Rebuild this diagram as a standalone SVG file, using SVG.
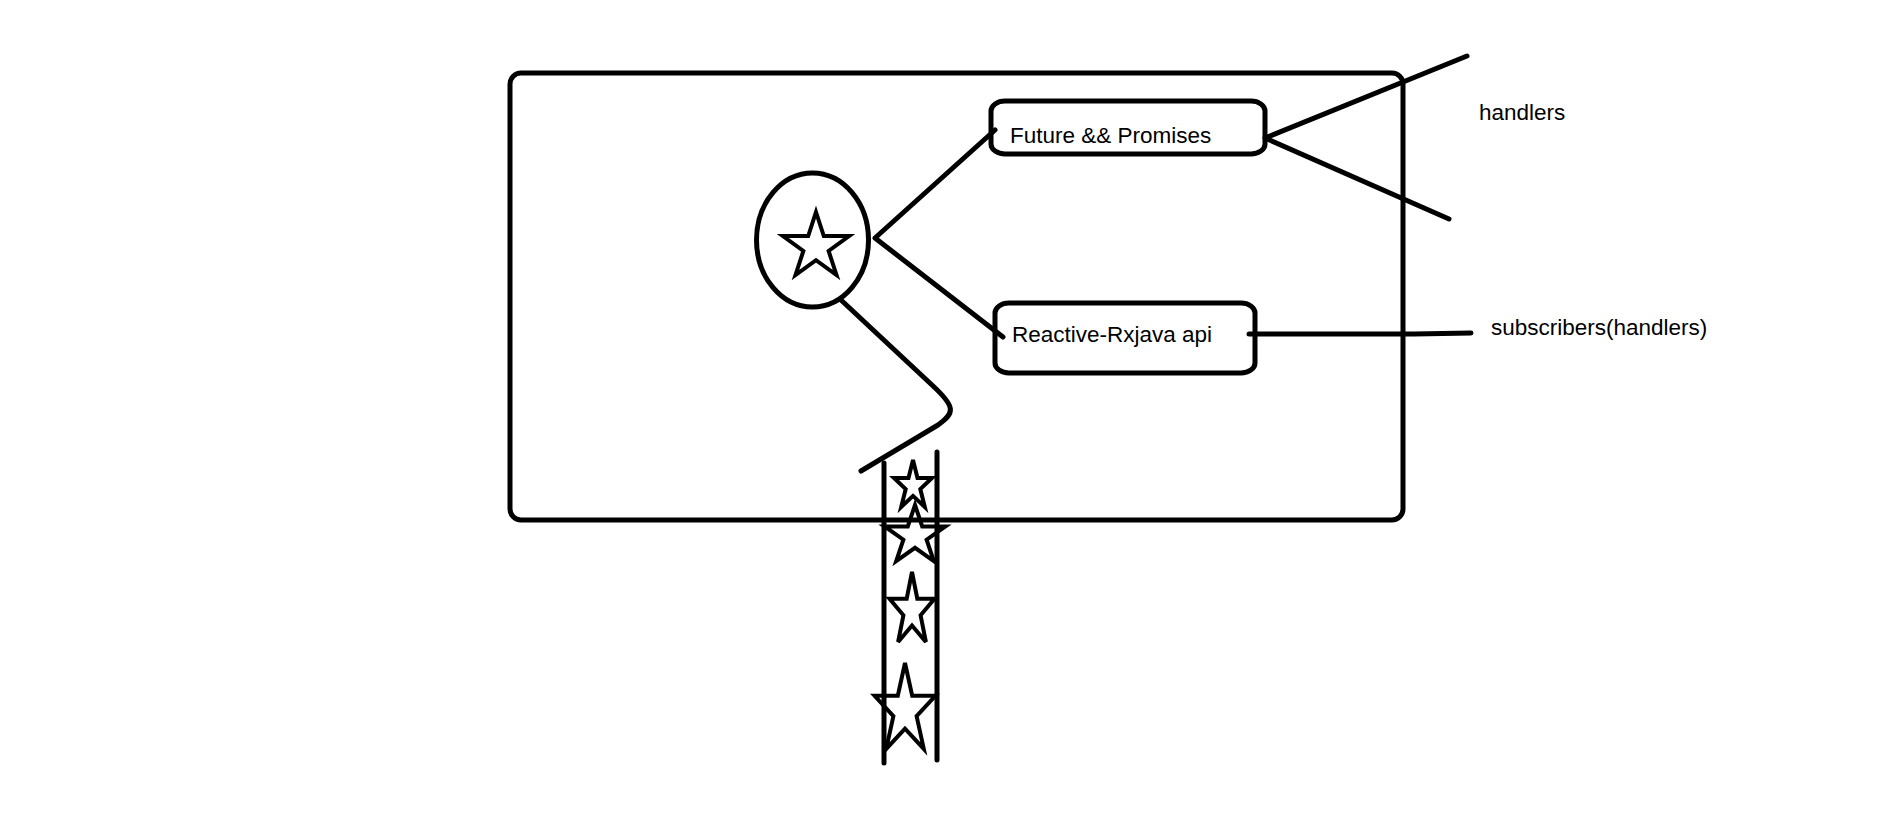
<svg xmlns="http://www.w3.org/2000/svg" width="1898" height="834" viewBox="0 0 1898 834">
<style>
.ln{fill:none;stroke:#000;stroke-width:5;stroke-linecap:round;stroke-linejoin:round}
.box{fill:none;stroke:#000;stroke-width:5}
.star{fill:none;stroke:#000;stroke-width:4;stroke-linejoin:miter}
.t{font-family:"Liberation Sans",Arial,sans-serif;font-size:22.5px;fill:#000}
</style>
<rect width="1898" height="834" fill="#fff"/>
<g id="container">
<rect class="box" x="510" y="73" width="893" height="447" rx="11" ry="11"/>
</g>
<g id="source">
<ellipse class="box" stroke-width="4" cx="812.5" cy="240" rx="56" ry="67"/>
<polygon class="star" points="816,212 823.8,236 849.1,236 828.6,250.9 836.5,275 816,260.1 795.5,275 803.4,250.9 782.9,236 808.2,236"/>
</g>
<g id="future">
<rect class="box" x="991" y="101" width="274" height="53" rx="14" ry="10"/>
<text class="t" x="1010" y="143">Future &amp;&amp; Promises</text>
</g>
<g id="reactive">
<rect class="box" x="995" y="303" width="260" height="70" rx="14" ry="10"/>
<text class="t" x="1012" y="342">Reactive-Rxjava api</text>
</g>
<g id="handlers">
<text class="t" x="1479" y="120">handlers</text>
</g>
<g id="subscribers">
<text class="t" x="1491" y="335">subscribers(handlers)</text>
</g>
<g id="stream">
<line class="ln" stroke-width="4.5" x1="884" y1="463" x2="884" y2="763"/>
<line class="ln" stroke-width="4.5" x1="937" y1="452" x2="937" y2="760"/>
<polygon class="star" points="913,460 917.5,478 932,478 920.3,489.1 924.8,507 913,495.9 901.2,507 905.7,489.1 894,478 908.5,478"/>
<polygon class="star" points="915,505 922.2,526.4 945.4,526.4 926.6,539.7 933.8,561.1 915,547.8 896.2,561.1 903.4,539.7 884.6,526.4 907.8,526.4"/>
<polygon class="star" points="912,572 917.3,598.7 934.5,598.7 920.6,615.3 925.9,642 912,625.5 898.1,642 903.4,615.3 889.5,598.7 906.7,598.7"/>
<polygon class="star" points="905,663 912.2,695.8 935.4,695.8 916.6,716.1 923.8,748.9 905,728.6 886.2,748.9 893.4,716.1 874.6,695.8 897.8,695.8"/>
</g>
<g id="connectors">
<polyline class="ln" points="995,130 875,238 1003,337"/>
<polyline class="ln" points="1467,56 1265,138 1449,219"/>
<polyline class="ln" points="1249,334 1414,334 1471,333"/>
<path class="ln" d="M841,300 L932,385 C956,407 955,413 938,425 L861,471"/>
</g>
</svg>
